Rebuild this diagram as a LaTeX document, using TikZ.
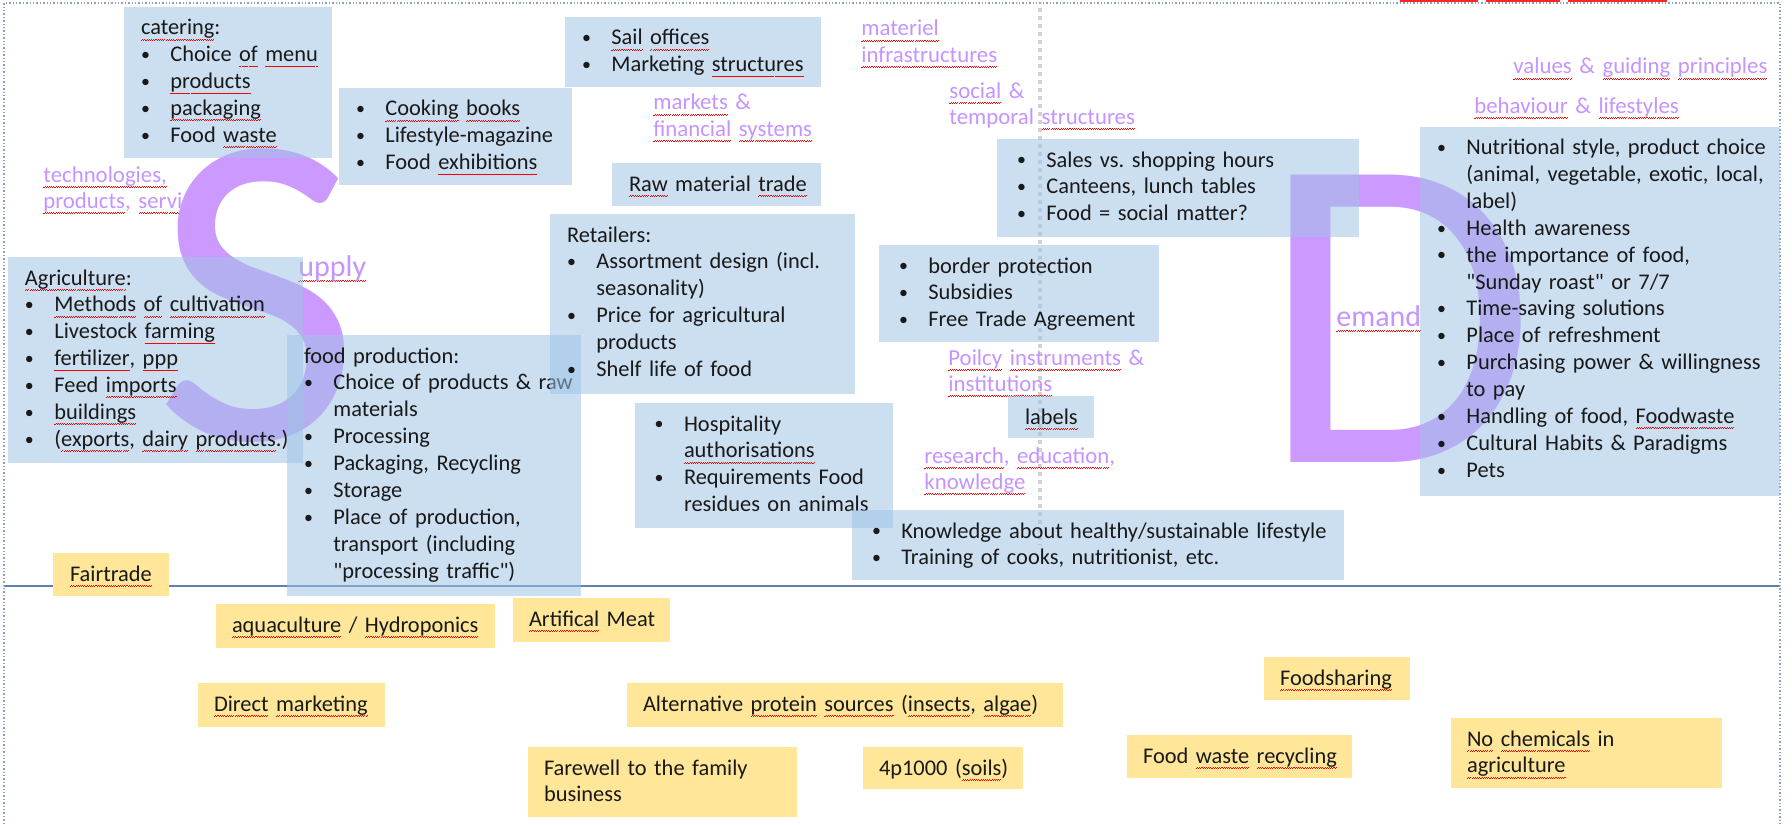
\documentclass[tikz,border=0pt]{standalone}
\usepackage{fontspec}
\setmainfont{Carlito}[Ligatures=TeXOff]
\usepackage{graphicx}
\usetikzlibrary{fit}
\definecolor{boxblue}{RGB}{157,195,230}
\definecolor{boxyellow}{RGB}{255,230,153}
\definecolor{lilac}{RGB}{204,153,255}
\definecolor{lilactext}{RGB}{196,148,255}
\definecolor{sepblue}{RGB}{95,130,175}
\definecolor{framecol}{RGB}{140,160,190}
\definecolor{txtcol}{RGB}{25,25,25}
\frenchspacing
\newsavebox\wvtmp
\newcommand\wvpat{\hbox{\rule[0pt]{0.55pt}{0.3pt}\rule[0.4pt]{0.55pt}{0.3pt}}}
\newcommand\wv[1]{\leavevmode\sbox\wvtmp{#1}\rlap{\raisebox{-2.6pt}[0pt][0pt]{\textcolor{red}{\hbox to\wd\wvtmp{\xleaders\wvpat\hfil}}}}\usebox\wvtmp}
\newcommand\bu{\makebox[14.7pt][l]{\raisebox{0.6pt}{\scalebox{0.8}{\textbullet}}}}
\newcommand\ct{\hspace*{14.7pt}}
\newcommand\bx[6]{\coordinate (#1-a) at (#2,#3); \coordinate (#1-b) at (#4,#5); \node[#6, fit=(#1-a)(#1-b), inner sep=0pt] (#1) {};}
\tikzset{
  bbox/.style={fill=boxblue, fill opacity=0.53, draw=none},
  ybox/.style={fill=boxyellow, draw=none},
  txt/.style={anchor=base west, inner sep=0pt, text=txtcol, font=\fontsize{11.2}{13.45}\selectfont, align=left, text width=300pt},
  lbl/.style={anchor=base west, inner sep=0pt, text=lilactext, font=\fontsize{11.4}{13.3}\selectfont, align=left, text width=200pt},
  biglbl/.style={anchor=base west, inner sep=0pt, text=lilactext, font=\fontsize{15}{18}\selectfont},
  bigletter/.style={anchor=base west, inner sep=0pt, text=lilac, font=\fontsize{224}{224}\selectfont},
}
\begin{document}
\begin{tikzpicture}[x=0.5pt,y=-0.5pt]
\useasboundingbox (0,0) rectangle (1792,824);
\fill[white] (0,0) rectangle (1792,824);
% guides
\draw[gray!35, line width=1.8pt, dash pattern=on 2pt off 2pt] (1040,8) -- (1040,545);
\draw[sepblue, line width=1.3pt] (4,586) -- (1780,586);
\draw[framecol, densely dotted, line width=0.7pt] (4,824) -- (4,3) -- (1780,3) -- (1780,824);
\draw[red!85, line width=0.8pt] (1400,1.2) -- (1478,1.2) (1486,1.2) -- (1560,1.2) (1568,1.2) -- (1667,1.2);
% purple labels
\node[lbl] (tech) at (43,182) {\wv{technologies,}\\\wv{products}, \wv{servi}};
\node[lbl] (markets) at (653,110) {\wv{markets} \&\\\wv{financial} \wv{systems}};
\node[lbl] (materiel) at (861,36) {\wv{materiel}\\\wv{infrastructures}};
\node[lbl] (social) at (949,98) {\wv{social} \&\\temporal \wv{structures}};
\node[lbl] (values) at (1513,74) {\wv{values} \& \wv{guiding} \wv{principles}};
\node[lbl] (behav) at (1474,113) {\wv{behaviour} \& \wv{lifestyles}};
\node[lbl] (policy) at (948,365) {\wv{Poilcy} \wv{instruments} \&\\\wv{institutions}};
\node[lbl] (research) at (924,463) {\wv{research}, \wv{education},\\\wv{knowledge}};
% big letters
\node[bigletter] (bigS) at (154,439) {S};
\node[bigletter] (bigD) at (1260,462) {D};
\node[biglbl] (upply) at (298,276) {\wv{upply}};
\node[biglbl] (emand) at (1336,326) {\wv{emand}};
% blue boxes with text
\bx{cat}{124}{7}{332}{158}{bbox}
\node[txt] (cat-t) at ([xshift=8.5pt,yshift=-14.2pt]cat.north west) {\wv{catering}:\\\bu Choice \wv{of} \wv{menu}\\\bu \wv{products}\\\bu \wv{packaging}\\\bu Food \wv{waste}};
\bx{cook}{339}{88}{572}{185}{bbox}
\node[txt] (cook-t) at ([xshift=8.5pt,yshift=-14.2pt]cook.north west) {\bu \wv{Cooking} \wv{books}\\\bu Lifestyle-magazine\\\bu Food \wv{exhibitions}};
\bx{sail}{565}{17}{821}{87}{bbox}
\node[txt] (sail-t) at ([xshift=8.5pt,yshift=-14.2pt]sail.north west) {\bu \wv{Sail} \wv{offices}\\\bu Marketing \wv{structures}};
\bx{raw}{612}{163}{821}{206}{bbox}
\node[txt] (raw-t) at ([xshift=8.5pt,yshift=-14.2pt]raw.north west) {\wv{Raw} material \wv{trade}};
\bx{agri}{8}{257}{303}{463}{bbox}
\node[txt] (agri-t) at ([xshift=8.5pt,yshift=-14.2pt]agri.north west) {\wv{Agriculture}:\\\bu \wv{Methods} \wv{of} \wv{cultivation}\\\bu Livestock \wv{farming}\\\bu \wv{fertilizer}, \wv{ppp}\\\bu Feed \wv{imports}\\\bu \wv{buildings}\\\bu (\wv{exports}, \wv{dairy} \wv{products}.)};
\bx{food}{287}{335}{581}{596}{bbox}
\node[txt] (food-t) at ([xshift=8.5pt,yshift=-14.2pt]food.north west) {food production:\\\bu Choice of products \& raw\\\ct materials\\\bu Processing\\\bu Packaging, Recycling\\\bu Storage\\\bu Place of production,\\\ct transport (including\\\ct "processing traffic")};
\bx{retail}{550}{214}{855}{394}{bbox}
\node[txt] (retail-t) at ([xshift=8.5pt,yshift=-14.2pt]retail.north west) {Retailers:\\\bu Assortment design (incl.\\\ct seasonality)\\\bu Price for agricultural\\\ct products\\\bu Shelf life of food};
\bx{hosp}{635}{403}{893}{528}{bbox}
\node[txt] (hosp-t) at ([xshift=9.8pt,yshift=-14.2pt]hosp.north west) {\bu Hospitality\\\ct \wv{authorisations}\\\bu Requirements Food\\\ct residues on animals};
\bx{know}{852}{510}{1344}{580}{bbox}
\node[txt] (know-t) at ([xshift=10pt,yshift=-14.2pt]know.north west) {\bu Knowledge about healthy/sustainable lifestyle\\\bu Training of cooks, nutritionist, etc.};
\bx{border}{879}{245}{1159}{342}{bbox}
\node[txt] (border-t) at ([xshift=10pt,yshift=-14.2pt]border.north west) {\bu border protection\\\bu Subsidies\\\bu Free Trade Agreement};
\bx{labels}{1008}{396}{1094}{438}{bbox}
\node[txt] (labels-t) at ([xshift=8.5pt,yshift=-14.2pt]labels.north west) {\wv{labels}};
\bx{sales}{997}{139}{1359}{237}{bbox}
\node[txt] (sales-t) at ([xshift=10pt,yshift=-14.2pt]sales.north west) {\bu Sales vs. shopping hours\\\bu Canteens, lunch tables\\\bu Food = social matter?};
\bx{dbox}{1420}{127}{1780}{496}{bbox}
\node[txt] (dbox-t) at ([xshift=8.5pt,yshift=-14pt]dbox.north west) {\bu Nutritional style, product choice\\\ct (animal, vegetable, exotic, local,\\\ct label)\\\bu Health awareness\\\bu the importance of food,\\\ct "Sunday roast" or 7/7\\\bu Time-saving solutions\\\bu Place of refreshment\\\bu Purchasing power \& willingness\\\ct to pay\\\bu Handling of food, \wv{Foodwaste}\\\bu Cultural Habits \& Paradigms\\\bu Pets};
% yellow boxes
\bx{fair}{53}{553}{169}{596}{ybox}
\node[txt] (fair-t) at ([xshift=8.5pt,yshift=-14.2pt]fair.north west) {\wv{Fairtrade}};
\bx{aqua}{216}{604}{495}{648}{ybox}
\node[txt] (aqua-t) at ([xshift=8pt,yshift=-14.2pt]aqua.north west) {\wv{aquaculture} / \wv{Hydroponics}};
\bx{meat}{513}{598}{670}{642}{ybox}
\node[txt] (meat-t) at ([xshift=8pt,yshift=-14.2pt]meat.north west) {\wv{Artifical} Meat};
\bx{direct}{198}{683}{385}{727}{ybox}
\node[txt] (direct-t) at ([xshift=8pt,yshift=-14.2pt]direct.north west) {\wv{Direct} \wv{marketing}};
\bx{alt}{627}{683}{1063}{727}{ybox}
\node[txt] (alt-t) at ([xshift=8pt,yshift=-14.2pt]alt.north west) {Alternative \wv{protein} \wv{sources} (\wv{insects}, \wv{algae})};
\bx{fare}{528}{747}{797}{817}{ybox}
\node[txt] (fare-t) at ([xshift=8pt,yshift=-14.2pt]fare.north west) {Farewell to the family\\business};
\bx{soil}{863}{747}{1023}{789}{ybox}
\node[txt] (soil-t) at ([xshift=8pt,yshift=-14.2pt]soil.north west) {4p1000 (\wv{soils})};
\bx{share}{1264}{657}{1410}{700}{ybox}
\node[txt] (share-t) at ([xshift=8pt,yshift=-14.2pt]share.north west) {\wv{Foodsharing}};
\bx{fwr}{1127}{735}{1352}{778}{ybox}
\node[txt] (fwr-t) at ([xshift=8pt,yshift=-14.2pt]fwr.north west) {Food \wv{waste} \wv{recycling}};
\bx{nochem}{1451}{718}{1722}{788}{ybox}
\node[txt] (nochem-t) at ([xshift=8pt,yshift=-14.2pt]nochem.north west) {\wv{No} \wv{chemicals} in\\\wv{agriculture}};
\end{tikzpicture}
\end{document}
